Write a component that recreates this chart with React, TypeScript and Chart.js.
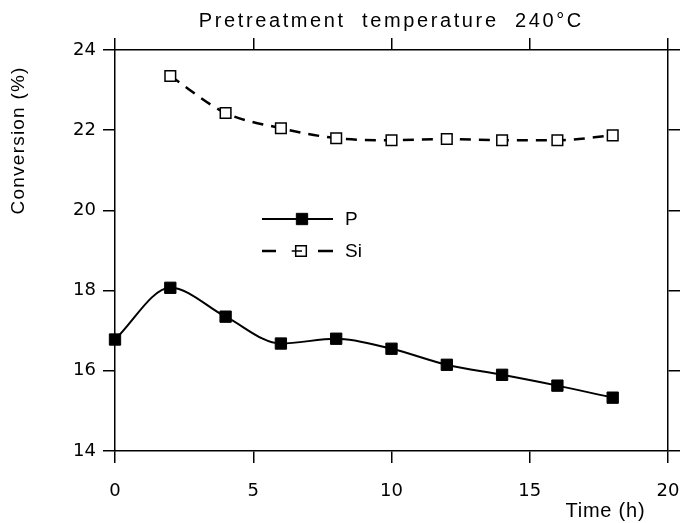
import { useEffect, useRef } from "react";
import { Chart, registerables } from "chart.js";

Chart.register(...registerables);

// ---- Data ----
const timeP = [0, 2, 4, 6, 8, 10, 12, 14, 16, 18];
const convP = [16.78, 18.07, 17.35, 16.68, 16.8, 16.55, 16.15, 15.9, 15.63, 15.33];
const timeSi = [2, 4, 6, 8, 10, 12, 14, 16, 18];
const convSi = [23.35, 22.43, 22.05, 21.8, 21.75, 21.78, 21.75, 21.75, 21.87];
const xTicks = [0, 5, 10, 15, 20];
const yTicks = [14, 16, 18, 20, 22, 24];
const seriesNames = ["P", "Si"];
const chartTitle = "Pretreatment  temperature  240°C";
const xTitle = "Time (h)";
const yTitle = "Conversion (%)";

function fitText(
  ctx: CanvasRenderingContext2D,
  text: string,
  x: number,
  y: number,
  width: number,
  font: string,
  rotate = false
) {
  ctx.save();
  ctx.font = font;
  (ctx as any).letterSpacing = "0px";
  const w = ctx.measureText(text).width;
  const ls = (width - w) / text.length;
  (ctx as any).letterSpacing = ls + "px";
  ctx.translate(x, y);
  if (rotate) ctx.rotate(-Math.PI / 2);
  ctx.textAlign = "center";
  ctx.textBaseline = "middle";
  ctx.fillStyle = "#000";
  ctx.fillText(text, ls / 2, 0);
  ctx.restore();
}

const textPlugin = {
  id: "texts",
  afterDraw(chart: any) {
    const ctx: CanvasRenderingContext2D = chart.ctx;
    fitText(ctx, chartTitle, 390, 21, 385, "20px 'Liberation Sans', Arial, sans-serif");
    fitText(ctx, yTitle, 19, 141, 148, "19px 'Liberation Sans', Arial, sans-serif", true);
    fitText(ctx, xTitle, 605, 511, 80, "20px 'Liberation Sans', Arial, sans-serif");

    // legend
    const rows = [
      { y: 219, ds: chart.data.datasets[0] },
      { y: 251, ds: chart.data.datasets[1] },
    ];
    rows.forEach((r, i) => {
      ctx.save();
      ctx.strokeStyle = "#000";
      ctx.lineWidth = r.ds.borderWidth;
      ctx.beginPath();
      if (i === 0) {
        ctx.moveTo(262, r.y);
        ctx.lineTo(333, r.y);
      } else {
        ctx.moveTo(262, r.y);
        ctx.lineTo(276, r.y);
        ctx.moveTo(318, r.y);
        ctx.lineTo(333, r.y);
      }
      ctx.stroke();
      const s = r.ds.pointRadius * Math.SQRT1_2;
      const mx = i === 0 ? 302 : 301;
      ctx.fillStyle = r.ds.pointBackgroundColor;
      ctx.lineWidth = r.ds.pointBorderWidth;
      ctx.beginPath();
      ctx.rect(mx - s, r.y - s, 2 * s, 2 * s);
      ctx.fill();
      ctx.stroke();
      if (i === 1) {
        ctx.beginPath();
        ctx.moveTo(mx - s - 4, r.y);
        ctx.lineTo(mx + 1, r.y);
        ctx.stroke();
      }
      ctx.fillStyle = "#000";
      ctx.font = "19px 'Liberation Sans', Arial, sans-serif";
      ctx.textAlign = "left";
      ctx.textBaseline = "middle";
      ctx.fillText(seriesNames[i], 345, r.y + 1);
      ctx.restore();
    });
  },
};

const frameGrid = {
  drawOnChartArea: false,
  drawTicks: true,
  tickLength: 12,
  color: "#000",
  lineWidth: 1.5,
};
const frameBorder = { display: true, color: "#000", width: 1.5 };
const tickFont = { family: "'DejaVu Sans', sans-serif", size: 18 };

const noPad = (s: any) => {
  s.paddingLeft = 0;
  s.paddingRight = 0;
  s.paddingTop = 0;
  s.paddingBottom = 0;
};

export default function App() {
  const ref = useRef<HTMLCanvasElement | null>(null);
  useEffect(() => {
    if (!ref.current) return;
    const chart = new Chart(ref.current, {
      type: "line",
      data: {
        datasets: [
          {
            label: seriesNames[0],
            data: timeP.map((t, i) => ({ x: t, y: convP[i] })),
            borderColor: "#000",
            borderWidth: 2,
            cubicInterpolationMode: "monotone",
            pointStyle: "rect",
            pointRadius: 8,
            pointBackgroundColor: "#000",
            pointBorderColor: "#000",
            pointBorderWidth: 1,
            clip: false,
          } as any,
          {
            label: seriesNames[1],
            data: timeSi.map((t, i) => ({ x: t, y: convSi[i] })),
            borderColor: "#000",
            borderWidth: 2.5,
            borderDash: [11, 8],
            cubicInterpolationMode: "monotone",
            pointStyle: "rect",
            pointRadius: 7.5,
            pointBackgroundColor: "#fff",
            pointBorderColor: "#000",
            pointBorderWidth: 1.5,
            clip: false,
          } as any,
        ],
      },
      options: {
        animation: false,
        responsive: false,
        devicePixelRatio: 1,
        layout: { padding: 0 },
        plugins: { legend: { display: false }, tooltip: { enabled: false }, title: { display: false } },
        scales: {
          x: {
            type: "linear",
            position: "bottom",
            min: 0,
            max: 20,
            afterBuildTicks: (s: any) => {
              s.ticks = xTicks.map((v) => ({ value: v }));
            },
            afterFit: (s: any) => {
              s.height = 72;
              noPad(s);
            },
            ticks: { color: "#000", font: tickFont, padding: 18, maxRotation: 0 },
            grid: frameGrid,
            border: frameBorder,
          },
          x2: {
            type: "linear",
            position: "top",
            min: 0,
            max: 20,
            afterBuildTicks: (s: any) => {
              s.ticks = xTicks.map((v) => ({ value: v }));
            },
            afterFit: (s: any) => {
              s.height = 50;
              noPad(s);
            },
            ticks: { display: false },
            grid: frameGrid,
            border: frameBorder,
          },
          y: {
            type: "linear",
            position: "left",
            min: 14,
            max: 24,
            afterBuildTicks: (s: any) => {
              s.ticks = yTicks.map((v) => ({ value: v }));
            },
            afterFit: (s: any) => {
              s.width = 115;
              noPad(s);
            },
            ticks: { color: "#000", font: tickFont, padding: 7 },
            grid: frameGrid,
            border: frameBorder,
          },
          y2: {
            type: "linear",
            position: "right",
            min: 14,
            max: 24,
            afterBuildTicks: (s: any) => {
              s.ticks = yTicks.map((v) => ({ value: v }));
            },
            afterFit: (s: any) => {
              s.width = 13;
              noPad(s);
            },
            ticks: { display: false },
            grid: frameGrid,
            border: frameBorder,
          },
        },
      } as any,
      plugins: [textPlugin],
    });
    return () => chart.destroy();
  }, []);

  return (
    <div style={{ position: "absolute", left: 0, top: 0, width: 681, height: 523, background: "#fff" }}>
      <canvas ref={ref} width={681} height={523} style={{ width: 681, height: 523, display: "block" }} />
    </div>
  );
}
